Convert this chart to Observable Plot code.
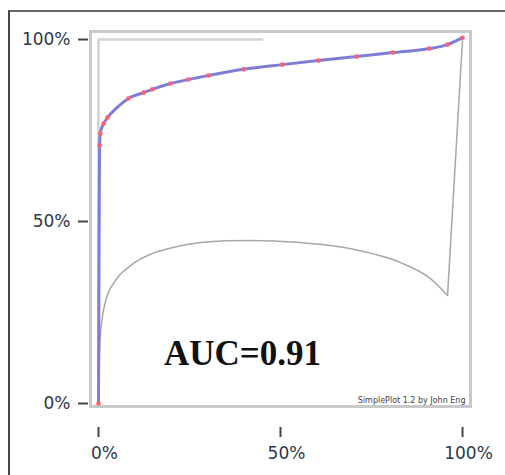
<!DOCTYPE html>
<html>
<head>
<meta charset="utf-8">
<script src="https://cdn.jsdelivr.net/npm/d3@7"></script>
<script src="https://cdn.jsdelivr.net/npm/@observablehq/plot@0.6"></script>
<style>
  html, body { margin: 0; padding: 0; background: #fff; }
  #wrap { position: relative; width: 505px; height: 475px; overflow: hidden; }
  #border { position: absolute; left: 8px; top: 10px; width: 497px; height: 465px;
            border-top: 2px solid #666; border-left: 2px solid #444; box-sizing: border-box; pointer-events: none; }
  #chart { position: absolute; left: 0; top: 0; }
</style>
</head>
<body>
<div id="wrap"><div id="chart"></div><div id="border"></div></div>
<script>
// ROC curve (false positive rate vs true positive rate)
const rocX = [0, 0.001, 0.002, 0.003, 0.005, 0.009, 0.014, 0.025, 0.05, 0.082, 0.124, 0.148, 0.198, 0.247, 0.302, 0.398, 0.505, 0.604, 0.709, 0.808, 0.909, 0.959, 1.0];
const rocY = [0, 0.30, 0.55, 0.709, 0.742, 0.758, 0.769, 0.786, 0.812, 0.838, 0.854, 0.863, 0.879, 0.890, 0.901, 0.918, 0.931, 0.942, 0.953, 0.964, 0.975, 0.986, 1.005];
// red markers along the ROC curve
const dotX = [0, 0.003, 0.005, 0.014, 0.025, 0.082, 0.124, 0.148, 0.198, 0.247, 0.302, 0.398, 0.505, 0.604, 0.709, 0.808, 0.909, 0.959, 1.0];
const dotY = [0, 0.709, 0.742, 0.769, 0.786, 0.838, 0.854, 0.863, 0.879, 0.890, 0.901, 0.918, 0.931, 0.942, 0.953, 0.964, 0.975, 0.986, 1.005];
// gray secondary curve (smooth part, then a straight jump to the top-right corner)
const grayX = [0, 0.002, 0.005, 0.02, 0.047, 0.088, 0.143, 0.21, 0.28, 0.35, 0.418, 0.555, 0.69, 0.83, 0.912, 0.959, 1.0];
const grayY = [0, 0.10, 0.187, 0.283, 0.338, 0.379, 0.41, 0.43, 0.442, 0.447, 0.448, 0.442, 0.426, 0.387, 0.343, 0.297, 1.0];
// light reference path (left edge and top)
const refX = [0, 0, 0.45];
const refY = [0, 1, 1];
// ticks
const xTicks = [0, 0.5, 1];
const yTicks = [0, 0.5, 1];
const tickLabel = d => Math.round(d * 100) + "%";
const aucText = "AUC=0.91";
const credit = "SimplePlot 1.2 by John Eng";

const roc = rocX.map((x, i) => ({x, y: rocY[i]}));
const dots = dotX.map((x, i) => ({x, y: dotY[i]}));
const gray = grayX.map((x, i) => ({x, y: grayY[i]}));
const graySmooth = gray.slice(0, gray.length - 1);
const grayJump = gray.slice(gray.length - 2);
const ref = refX.map((x, i) => ({x, y: refY[i]}));

const chart = Plot.plot({
  width: 505,
  height: 475,
  marginLeft: 98,
  marginRight: 43,
  marginTop: 39,
  marginBottom: 72,
  style: {fontFamily: "DejaVu Sans", background: "white", overflow: "visible"},
  x: {domain: [0, 1], axis: null, label: null},
  y: {domain: [0, 1], axis: null, label: null},
  marks: [
    Plot.frame({stroke: "#c9c9c9", strokeWidth: 3, insetLeft: -8, insetTop: -8, insetRight: -8, insetBottom: -3}),
    Plot.line(ref, {x: "x", y: "y", stroke: "#d2d2d2", strokeWidth: 2.5}),
    Plot.line(graySmooth, {x: "x", y: "y", stroke: "#a8a8a8", strokeWidth: 1.5, curve: "monotone-x"}),
    Plot.line(grayJump, {x: "x", y: "y", stroke: "#a8a8a8", strokeWidth: 1.5}),
    Plot.line(roc, {x: "x", y: "y", stroke: "#7e7ed8", strokeWidth: 3, curve: "monotone-x"}),
    Plot.dot(dots, {x: "x", y: "y", r: 2.3, fill: "#ff5f73", stroke: null}),
    // x ticks (marks only) and x labels (shifted slightly right as in the source)
    Plot.axisX(xTicks, {tickFormat: () => "", tickSize: 10, dy: 24, stroke: "#444", strokeWidth: 2, anchor: "bottom", label: null}),
    Plot.axisX(xTicks, {tickFormat: tickLabel, tickSize: 0, tickPadding: 19, dy: 24, dx: 6, fontSize: 17, fill: "#2d3848", anchor: "bottom", label: null}),
    Plot.axisY(yTicks, {tickFormat: tickLabel, tickSize: 10, tickPadding: 8, dx: -10, stroke: "#444", strokeWidth: 2, fontSize: 17, fill: "#2d3848", anchor: "left", label: null}),
    Plot.text([aucText], {text: d => d, frameAnchor: "bottom", dx: -38, dy: -50, lineAnchor: "middle", fontFamily: "Liberation Serif", fontWeight: "bold", fontSize: 35, fill: "#111"}),
    Plot.text([credit], {text: d => d, frameAnchor: "bottom-right", textAnchor: "end", lineAnchor: "bottom", dx: 3, dy: -1, fontSize: 8, fill: "#444"})
  ]
});
document.getElementById("chart").appendChild(chart);
</script>
</body>
</html>
